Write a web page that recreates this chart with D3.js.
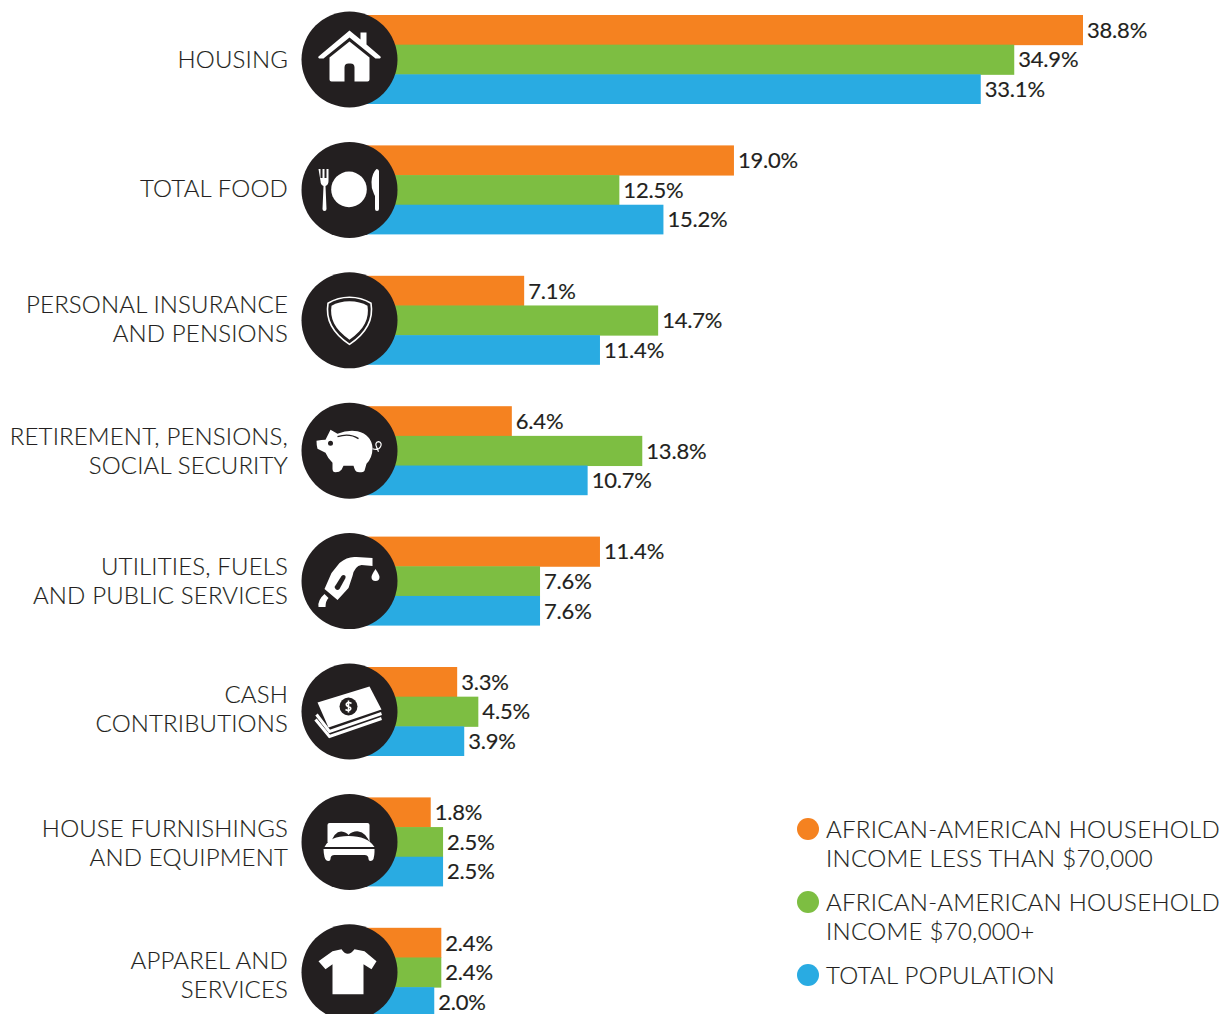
<!DOCTYPE html>
<html>
<head>
<meta charset="utf-8">
<script src="https://cdnjs.cloudflare.com/ajax/libs/d3/7.8.5/d3.min.js"></script>
<style>
    html, body { margin: 0; padding: 0; background: #fff; }
    svg { display: block; }
    text { font-family: Lato, "Open Sans", sans-serif; fill: #231f20; }
</style>
</head>
<body>
<div id="chart"></div>
<script>
// data
var categories = ["housing", "food", "insurance", "retirement", "utilities", "cash", "furnishings", "apparel"];
var categoryLines = [
    ["HOUSING"],
    ["TOTAL FOOD"],
    ["PERSONAL INSURANCE", "AND PENSIONS"],
    ["RETIREMENT, PENSIONS,", "SOCIAL SECURITY"],
    ["UTILITIES, FUELS", "AND PUBLIC SERVICES"],
    ["CASH", "CONTRIBUTIONS"],
    ["HOUSE FURNISHINGS", "AND EQUIPMENT"],
    ["APPAREL AND", "SERVICES"]
];
// printed labels
var under70k = [38.8, 19.0, 7.1, 6.4, 11.4, 3.3, 1.8, 2.4];
var over70k = [34.9, 12.5, 14.7, 13.8, 7.6, 4.5, 2.5, 2.4];
var totalPop = [33.1, 15.2, 11.4, 10.7, 7.6, 3.9, 2.5, 2.0];
// bar lengths as measured, a few bars in the picture differ from their printed label
var under70kDrawn = [38.8, 19.0, 7.1, 6.4, 11.4, 3.3, 1.8, 2.4];
var over70kDrawn = [34.9, 12.5, 14.7, 13.8, 8.0, 4.5, 2.5, 2.4];
var totalPopDrawn = [33.0, 15.0, 11.4, 10.7, 8.0, 3.7, 2.5, 2.0];
var seriesKeys = ["under70k", "over70k", "totalPop"];
var seriesValues = [under70k, over70k, totalPop];
var seriesDrawn = [under70kDrawn, over70kDrawn, totalPopDrawn];
var seriesColors = ["#f58220", "#7dbe42", "#29abe2"];
var legendLines = [
    ["AFRICAN-AMERICAN HOUSEHOLD", "INCOME LESS THAN $70,000"],
    ["AFRICAN-AMERICAN HOUSEHOLD", "INCOME $70,000+"],
    ["TOTAL POPULATION"]
];

var width = 1231,
    height = 1014,
    iconX = 349.5,
    iconR = 48,
    labelRight = 288,
    ink = "#231f20";

// the names do not sit exactly on the circle centres
var labelShift = { food: -2, insurance: -1, cash: -3, furnishings: 1, apparel: 3 };

var svg = d3.select("#chart")
    .append("svg")
    .attr("width", width)
    .attr("height", height)
    .attr("viewBox", `0 0 ${width} ${height}`);

var x = d3.scaleLinear()
    .domain([0, 38.8])
    .range([399, 1083]);

// step 130.4, band 89
var y = d3.scaleBand()
    .domain(categories)
    .range([15, 15 + 7 * 130.4 + 89])
    .paddingInner(0.3175)
    .paddingOuter(0)
    .align(0);

var ySeries = d3.scaleBand()
    .domain(seriesKeys)
    .range([0, y.bandwidth()]);

// one group per category
var groups = svg.append("g")
    .selectAll("g")
    .data(categories)
    .enter().append("g")
    .attr("transform", d => `translate(0 ${y(d)})`);

// bars start under the circle
groups.selectAll("rect")
    .data((d, i) => seriesKeys.map((k, j) => ({ key: k, value: seriesDrawn[j][i], color: seriesColors[j] })))
    .enter().append("rect")
    .attr("x", iconX)
    .attr("y", d => ySeries(d.key))
    .attr("width", d => x(d.value) - iconX)
    .attr("height", (d, j) => ySeries.bandwidth() + (j < 2 ? 0.5 : 0))
    .attr("fill", d => d.color);

groups.selectAll("text.value")
    .data((d, i) => seriesKeys.map((k, j) => ({ key: k, value: seriesValues[j][i], drawn: seriesDrawn[j][i] })))
    .enter().append("text")
    .attr("class", "value")
    .attr("x", d => x(d.drawn) + 4)
    .attr("y", d => ySeries(d.key) + ySeries.bandwidth() / 2)
    .attr("dy", "0.36em")
    .attr("font-size", 22)
    .attr("letter-spacing", -0.2)
    .attr("stroke", ink)
    .attr("stroke-width", 0.15)
    .text(d => d.value.toFixed(1) + "%");

// category names, right aligned against the circles
groups.each(function (d, i) {
    var lines = categoryLines[i];
    var t = d3.select(this).append("text")
        .attr("text-anchor", "end")
        .attr("font-size", 24)
        .attr("font-weight", 300)
        .attr("letter-spacing", 0.15)
        .attr("stroke", ink)
        .attr("stroke-width", 0.15)
        .attr("y", y.bandwidth() / 2 - (lines.length - 1) * 14.5 + (labelShift[d] || 0))
        .attr("dy", "0.36em");
    t.selectAll("tspan")
        .data(lines)
        .enter().append("tspan")
        .attr("x", labelRight)
        .attr("dy", (l, j) => j ? 29 : null)
        .text(l => l);
});

// icons, drawn around the circle centre
var black = ink, white = "#fff";
var iconParts = {
    housing: [
        { d: "M0,-29 L11,-20 L11,-27 L17,-27 L17,-15 L31,-3 Q32,-1 29,-1 L26,-1 L0,-22 L-26,-1 L-29,-1 Q-32,-1 -31,-3 Z", fill: white },
        { d: "M0,-18 L20,-2 L20,20 Q20,22 18,22 L5,22 L5,8 Q5,4 1,4 L-1,4 Q-5,4 -5,8 L-5,22 L-18,22 Q-20,22 -20,20 L-20,-2 Z", fill: white }
    ],
    food: [
        { d: "M-31,-21 h2 v9 h2 v-9 h2 v9 h2 v-9 h2 v12 q0,4 -3,5 l1,23 q0,2 -2,2 q-2,0 -2,-2 l1,-23 q-3,-1 -3,-5 Z", fill: white },
        { d: "M-18.3,-0.5 a17.8,17.8 0 1,0 35.6,0 a17.8,17.8 0 1,0 -35.6,0 Z", fill: white },
        { d: "M27,-21 q2,0 2.5,2 v38 q0,2 -2,2 q-2,0 -2,-2 v-13 l-1,-2 q-3,-6 -2.5,-12 q0.5,-9 5,-13 Z", fill: white }
    ],
    insurance: [
        { d: "M0,-23 C8,-23 15,-21 21.5,-17 C24,-2 18,12 0,24 C-18,12 -24,-2 -21.5,-17 C-15,-21 -8,-23 0,-23 Z", fill: "none", stroke: white, width: 1.6 },
        { d: "M0,-19 C7,-19 13,-17.5 18,-14.5 C20,-2 15,9 0,19.5 C-15,9 -20,-2 -18,-14.5 C-13,-17.5 -7,-19 0,-19 Z", fill: white }
    ],
    retirement: [
        { d: "M-33,-10 Q-28,-11 -24,-11 L-19,-21 L-12,-17 Q-2,-21 8,-19.5 Q22,-16 23,-3 Q23,7 17,13 L15,20 Q14,21.5 10,21.5 Q6,21.5 5,18 L4,15 L-6,15 L-8,19 Q-10,21.5 -14,21.5 Q-17,21.5 -17,18 L-17,12 Q-22,7 -24,2 L-32,-2 Q-33,-5 -33,-10 Z", fill: white },
        { d: "M-12,-14 Q0,-18 9,-12", fill: "none", stroke: black, width: 1.4 },
        { d: "M-21.5,-7.5 a2.5,2.5 0 1,0 5,0 a2.5,2.5 0 1,0 -5,0 Z", fill: black },
        { d: "M23,-2 Q29,0 31,-4 Q33,-8 29,-9 Q25,-8 27,-4 L29,1", fill: "none", stroke: white, width: 1.2 }
    ],
    utilities: [
        { d: "M-18,-8 L-10,-18 Q-2,-25 7,-24 L23,-23 L23,-15 L12,-16 Q5,-15 3,-5 L-1,7 L-12,19 L-25,8 Z", fill: white },
        { d: "M-15,6 L-8,-5 Q-6,-7 -4,-5 L-4,-3 L-10,8 Q-12,10 -14,8 Z", fill: black },
        { d: "M-31,26 Q-32,19 -25,13 L-21,17 Q-24,20 -24,26 Z", fill: white },
        { d: "M26,-12 Q30,-6 30,-4 a4,4 0 1,1 -8,0 Q22,-6 26,-12 Z", fill: white }
    ],
    cash: [
        { d: "M-32,-9 L20,-25 L32,-2 L-21,16 Z", fill: white },
        { d: "M-33,3 L-20,20 L32,2", fill: "none", stroke: white, width: 3 },
        { d: "M-34,8 L-20,25 L32,7", fill: "none", stroke: white, width: 3 },
        { d: "M-10,-5 a9,9 0 1,0 18,0 a9,9 0 1,0 -18,0 Z", fill: black },
        { d: "M2,-8 Q-1,-10 -3,-8 Q-4,-6 -1,-5 Q2,-4 1,-2 Q-1,0 -4,-2 M-1,-11 V1", fill: "none", stroke: white, width: 1.6 }
    ],
    furnishings: [
        { d: "M-20,-19 H18 Q20,-19 20,-17 V0 H-22 V-17 Q-22,-19 -20,-19 Z", fill: white },
        { d: "M-19,2 Q-15,-11 -8,-10.5 Q-3,-10 -1,-7 Q3,-11 9,-10.5 Q16,-10 21,2 Z", fill: black },
        { d: "M-25,5 Q-20,-6 -1,-6 Q18,-6 25,5 Z", fill: white },
        { d: "M-26,7 H25 V10 Q25,13 24,17 Q23,19 21,19 Q19,19 19,17 Q19,13 15,13 H-15 Q-19,13 -19,17 Q-19,19 -21,19 Q-24,19 -25,15 Q-26,10 -26,7 Z", fill: white }
    ],
    apparel: [
        { d: "M-8,-23 Q-2,-14 5,-23 L15,-21 L27,-11 L22,-3 L14,-8 L14,22 L-17,22 L-17,-8 L-24,-3 L-31,-11 L-17,-21 Z", fill: white }
    ]
};

var icons = groups.append("g")
    .attr("transform", `translate(${iconX} ${y.bandwidth() / 2})`);

icons.append("circle")
    .attr("r", iconR)
    .attr("fill", black);

icons.selectAll("path")
    .data(d => iconParts[d])
    .enter().append("path")
    .attr("d", d => d.d)
    .attr("fill", d => d.fill)
    .attr("stroke", d => d.stroke || "none")
    .attr("stroke-width", d => d.width || 0);

// legend
var legendY = d3.scalePoint()
    .domain(seriesKeys)
    .range([829, 975]);

var legend = svg.append("g")
    .selectAll("g")
    .data(seriesKeys)
    .enter().append("g")
    .attr("transform", d => `translate(0 ${legendY(d)})`);

legend.append("circle")
    .attr("cx", 808)
    .attr("r", 11)
    .attr("fill", (d, i) => seriesColors[i]);

legend.each(function (d, i) {
    var t = d3.select(this).append("text")
        .attr("font-size", 24)
        .attr("font-weight", 300)
        .attr("letter-spacing", 0.28)
        .attr("stroke", ink)
        .attr("stroke-width", 0.15)
        .attr("dy", "0.36em");
    t.selectAll("tspan")
        .data(legendLines[i])
        .enter().append("tspan")
        .attr("x", 826)
        .attr("dy", (l, j) => j ? 29 : null)
        .text(l => l);
});
</script>
</body>
</html>
